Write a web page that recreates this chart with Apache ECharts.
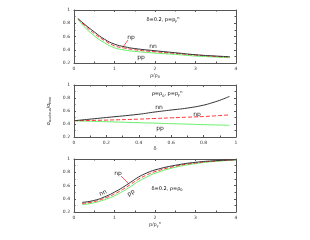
<!DOCTYPE html>
<html><head><meta charset="utf-8">
<script src="https://cdn.jsdelivr.net/npm/echarts@6/dist/echarts.min.js"></script>
<style>html,body{margin:0;padding:0;background:#fff}#c{width:310px;height:240px}</style>
</head><body><div id="c"></div>
<script>
// Panel 1: density dependence (rho/rho0)
const densX  = [0.1, 0.25, 0.5, 0.75, 1.0, 1.25, 1.5, 2.0, 2.5, 3.0, 3.5, 3.85];
const densNN = [0.87, 0.79, 0.67, 0.56, 0.485, 0.445, 0.418, 0.385, 0.355, 0.325, 0.305, 0.295];
const densNP = [0.87, 0.775, 0.645, 0.54, 0.46, 0.425, 0.40, 0.37, 0.345, 0.32, 0.30, 0.29];
const densPP = [0.86, 0.75, 0.61, 0.505, 0.43, 0.395, 0.375, 0.35, 0.33, 0.305, 0.29, 0.28];
// Panel 2: asymmetry dependence (delta)
const asymX  = [0, 0.2, 0.4, 0.5, 0.6, 0.7, 0.8, 0.85, 0.9, 0.96];
const asymNN = [0.45, 0.50, 0.55, 0.585, 0.615, 0.645, 0.69, 0.725, 0.765, 0.825];
const asymNP = [0.45, 0.46, 0.475, 0.485, 0.495, 0.505, 0.515, 0.522, 0.53, 0.54];
const asymPP = [0.45, 0.435, 0.42, 0.413, 0.405, 0.398, 0.39, 0.387, 0.384, 0.38];
// Panel 3: momentum dependence (p/pF)
const momX  = [0.2, 0.5, 0.8, 1.0, 1.2, 1.4, 1.6, 1.8, 2.0, 2.5, 3.0, 3.5, 4.0];
const momNN = [0.345, 0.375, 0.44, 0.50, 0.57, 0.65, 0.73, 0.79, 0.835, 0.905, 0.95, 0.975, 0.99];
const momNP = [0.328, 0.357, 0.418, 0.472, 0.54, 0.618, 0.698, 0.76, 0.81, 0.89, 0.94, 0.97, 0.988];
const momPP = [0.31, 0.34, 0.395, 0.445, 0.51, 0.585, 0.665, 0.73, 0.785, 0.875, 0.93, 0.965, 0.985];
const yTicks = [0.2, 0.4, 0.6, 0.8, 1];

const zip = (xs, ys) => xs.map((x, i) => [x, ys[i]]);
const AX = '#555';
const F = 'DejaVu Sans, Liberation Sans, sans-serif';
const grids = [
  {left: 74, right: 74, top: 10, height: 53},
  {left: 74, right: 74, top: 85, height: 52},
  {left: 74, right: 74, top: 159, height: 53}
];
const xRanges = [[0, 4, 1], [0, 1, 0.2], [0, 4, 1]];
const xNames = [
  '{i|ρ}/{i|ρ}{s|0}',
  '{i|δ}',
  '{i|p}/{i|p}{s|F}{u|n}'
];
const rich = {
  i: {fontFamily: F, fontSize: 5, color: '#333'},
  s: {fontFamily: F, fontSize: 3.5, color: '#333', verticalAlign: 'bottom', padding: [3, 0, 0, 0]},
  u: {fontFamily: F, fontSize: 3.5, color: '#333', verticalAlign: 'top', padding: [0, 0, 4, 0]}
};
const xAxis = [], yAxis = [];
grids.forEach((g, k) => {
  const [mn, mx, iv] = xRanges[k];
  xAxis.push({
    gridIndex: k, type: 'value', min: mn, max: mx, interval: iv,
    name: xNames[k], nameLocation: 'middle', nameGap: 9,
    nameTextStyle: {rich: rich, fontSize: 5},
    axisLine: {show: true, onZero: false, lineStyle: {color: AX, width: 1}},
    axisTick: {inside: true, length: 2, lineStyle: {color: AX}},
    minorTick: {show: true, splitNumber: 2, length: 1.5, lineStyle: {color: AX}},
    axisLabel: {fontSize: 4.5, color: '#333', margin: 3, fontFamily: F},
    splitLine: {show: false}
  });
  xAxis.push({
    gridIndex: k, type: 'value', min: mn, max: mx, interval: iv, position: 'top',
    axisLine: {show: true, onZero: false, lineStyle: {color: AX, width: 1}},
    axisTick: {inside: true, length: 2, lineStyle: {color: AX}},
    minorTick: {show: true, splitNumber: 2, length: 1.5, lineStyle: {color: AX}},
    axisLabel: {show: false}, splitLine: {show: false}
  });
  yAxis.push({
    gridIndex: k, type: 'value', min: 0.2, max: 1, interval: 0.2,
    name: k === 1 ? '{i|σ}{s|nucleus}{i|/σ}{s|free}' : '',
    nameLocation: 'middle', nameRotate: 90, nameGap: 14,
    nameTextStyle: {rich: rich, fontSize: 5},
    axisLine: {show: true, onZero: false, lineStyle: {color: AX, width: 1}},
    axisTick: {inside: true, length: 2, lineStyle: {color: AX}},
    minorTick: {show: true, splitNumber: 2, length: 1.5, lineStyle: {color: AX}},
    axisLabel: {fontSize: 4.5, color: '#333', margin: 4, fontFamily: F,
      formatter: v => (yTicks.includes(Math.round(v * 10) / 10) ? String(Math.round(v * 10) / 10) : '')},
    splitLine: {show: false}
  });
  yAxis.push({
    gridIndex: k, type: 'value', min: 0.2, max: 1, interval: 0.2, position: 'right',
    axisLine: {show: true, onZero: false, lineStyle: {color: AX, width: 1}},
    axisTick: {inside: true, length: 2, lineStyle: {color: AX}},
    minorTick: {show: true, splitNumber: 2, length: 1.5, lineStyle: {color: AX}},
    axisLabel: {show: false}, splitLine: {show: false}
  });
});
const panels = [[densX, densNN, densNP, densPP], [asymX, asymNN, asymNP, asymPP], [momX, momNN, momNP, momPP]];
const series = [];
panels.forEach((p, k) => {
  const [xs, nn, np, pp] = p;
  const base = {type: 'line', xAxisIndex: 2 * k, yAxisIndex: 2 * k, smooth: true, showSymbol: false, symbol: 'none', silent: true, animation: false};
  series.push(Object.assign({}, base, {name: 'pp', data: zip(xs, pp), lineStyle: {color: '#66ee66', width: 1}}));
  series.push(Object.assign({}, base, {name: 'np', data: zip(xs, np), lineStyle: {color: '#ff3333', width: 1, type: [4, 2]}}));
  series.push(Object.assign({}, base, {name: 'nn', data: zip(xs, nn), lineStyle: {color: '#333', width: 1}}));
});
const T = (x, y, txt, size, rot) => ({type: 'text', x: x, y: y, rotation: rot || 0,
  style: {text: txt, fontSize: size || 6, fontFamily: F, fill: '#222', align: 'center', verticalAlign: 'middle', rich: rich}});
const graphic = [
  // panel 1
  {type: 'text', x: 163, y: 20, style: {text: '{i|δ=0.2, p=p}{s|F}{u|n}', rich: rich, fontSize: 5, align: 'center', verticalAlign: 'middle'}},
  T(131, 37, 'np'), T(153, 46.5, 'nn'), T(141, 57.5, 'pp'),
  {type: 'line', shape: {x1: 128, y1: 40, x2: 123, y2: 47}, style: {stroke: '#ff3333', lineWidth: 0.8}},
  // panel 2
  {type: 'text', x: 167, y: 94, style: {text: '{i|ρ=ρ}{s|0}{i|, p=p}{s|F}{u|n}', rich: rich, fontSize: 5, align: 'center', verticalAlign: 'middle'}},
  T(159, 107, 'nn'), T(197, 114.5, 'np'), T(160, 128, 'pp'),
  // panel 3
  {type: 'text', x: 167, y: 189, style: {text: '{i|δ=0.2, ρ=ρ}{s|0}', rich: rich, fontSize: 5, align: 'center', verticalAlign: 'middle'}},
  T(118, 173, 'np'), T(103, 193, 'nn', 6, 0.45), T(131, 193, 'pp', 6, 0.6),
  {type: 'line', shape: {x1: 121, y1: 176, x2: 129, y2: 184}, style: {stroke: '#ff3333', lineWidth: 0.8}}
];
const chart = echarts.init(document.getElementById('c'), null, {renderer: 'canvas'});
chart.setOption({animation: false, grid: grids, xAxis: xAxis, yAxis: yAxis, series: series, graphic: graphic});
</script></body></html>
